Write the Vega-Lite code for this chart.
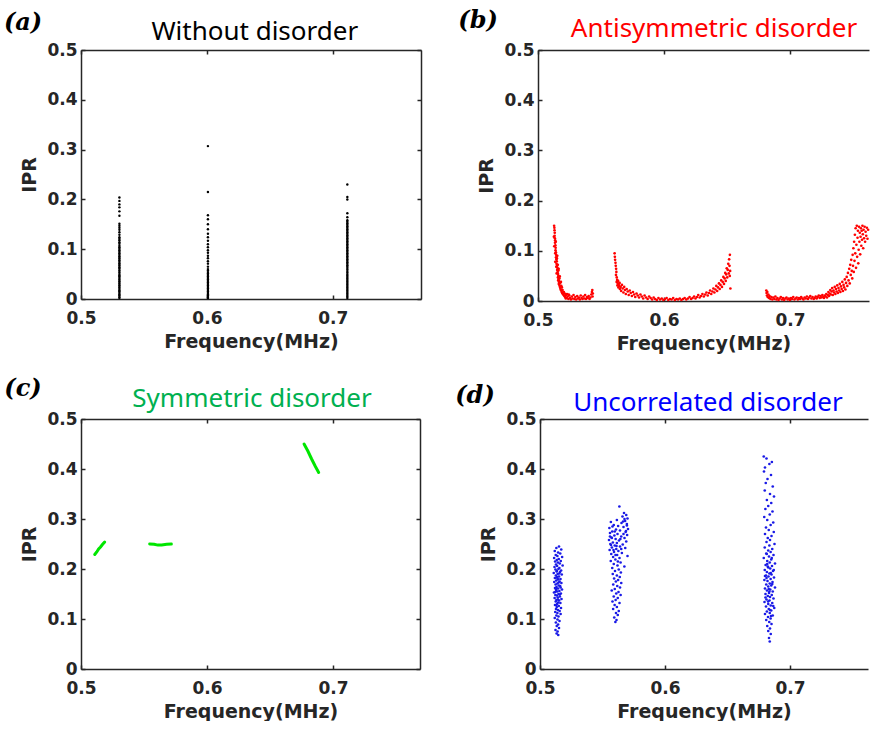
{
"$schema": "https://vega.github.io/schema/vega-lite/v6.json",
"padding": {"left": 3, "top": 8, "right": 0, "bottom": 0},
"background": "white",
"spacing": 23,
"vconcat": [
 {"hconcat": [
  {"width": 340, "height": 249,
   "layer": [
    {"data": {"name": "a"}, "mark": {"type": "circle", "size": 6, "color": "#000000", "opacity": 1},
     "encoding": {
      "x": {"field": "f", "type": "quantitative", "scale": {"domain": [0.5, 0.77], "nice": false, "zero": false}, "axis": {"orient": "bottom", "values": [0.5, 0.6, 0.7], "format": ".1f", "title": "Frequency(MHz)", "titlePadding": 6}},
      "y": {"field": "ipr", "type": "quantitative", "scale": {"domain": [0, 0.5], "nice": false}, "axis": {"orient": "left", "values": [0, 0.1, 0.2, 0.3, 0.4, 0.5], "labelExpr": "datum.value == 0 ? '0' : format(datum.value, '.1f')", "title": "IPR", "titlePadding": 7}}}},
    {"data": {"values": [{"label": "(a)"}]}, "mark": {"type": "text", "font": "DejaVu Serif", "fontStyle": "italic", "fontWeight": "bold", "fontSize": 24, "color": "#000000", "baseline": "middle", "align": "center"},
     "encoding": {
      "x": {"datum": 0.454, "type": "quantitative", "scale": {"domain": [0.5, 0.77], "nice": false, "zero": false}, "axis": {"orient": "top", "values": [0.5, 0.6, 0.7], "labels": false, "title": null}},
      "y": {"datum": 0.554, "type": "quantitative", "scale": {"domain": [0, 0.5], "nice": false}, "axis": {"orient": "right", "values": [0, 0.1, 0.2, 0.3, 0.4, 0.5], "labels": false, "title": null}},
      "text": {"field": "label"}}},
    {"data": {"values": [{"label": "Without disorder"}]}, "mark": {"type": "text", "font": "Noto Sans", "fontSize": 26, "color": "#000000", "baseline": "alphabetic", "align": "center"},
     "encoding": {
      "x": {"datum": 0.638, "type": "quantitative", "axis": null},
      "y": {"datum": 0.521, "type": "quantitative", "axis": null},
      "text": {"field": "label"}}}
   ],
   "resolve": {"axis": {"x": "independent", "y": "independent"}}},
  {"width": 331, "height": 251,
   "layer": [
    {"data": {"name": "b"}, "mark": {"type": "circle", "size": 7, "color": "#ff0000", "opacity": 1},
     "encoding": {
      "x": {"field": "f", "type": "quantitative", "scale": {"domain": [0.5, 0.7627], "nice": false, "zero": false}, "axis": {"orient": "bottom", "values": [0.5, 0.6, 0.7], "format": ".1f", "title": "Frequency(MHz)", "titlePadding": 6}},
      "y": {"field": "ipr", "type": "quantitative", "scale": {"domain": [0, 0.5], "nice": false}, "axis": {"orient": "left", "values": [0, 0.1, 0.2, 0.3, 0.4, 0.5], "labelExpr": "datum.value == 0 ? '0' : format(datum.value, '.1f')", "title": "IPR", "titlePadding": 7}}}},
    {"data": {"values": [{"label": "(b)"}]}, "mark": {"type": "text", "font": "DejaVu Serif", "fontStyle": "italic", "fontWeight": "bold", "fontSize": 24, "color": "#000000", "baseline": "middle", "align": "center"},
     "encoding": {
      "x": {"datum": 0.4524, "type": "quantitative", "scale": {"domain": [0.5, 0.7627], "nice": false, "zero": false}, "axis": {"orient": "top", "values": [0.5, 0.6, 0.7], "labels": false, "title": null}},
      "y": {"datum": 0.558, "type": "quantitative", "scale": {"domain": [0, 0.5], "nice": false}, "axis": null},
      "text": {"field": "label"}}},
    {"data": {"values": [{"label": "Antisymmetric disorder"}]}, "mark": {"type": "text", "font": "Noto Sans", "fontSize": 26, "color": "#ff0000", "baseline": "alphabetic", "align": "center"},
     "encoding": {
      "x": {"datum": 0.6397, "type": "quantitative", "axis": null},
      "y": {"datum": 0.525, "type": "quantitative", "axis": null},
      "text": {"field": "label"}}}
   ],
   "resolve": {"axis": {"x": "independent", "y": "independent"}}}
 ], "spacing": 36},
 {"hconcat": [
  {"width": 339, "height": 250,
   "layer": [
    {"data": {"name": "c"}, "mark": {"type": "line", "strokeWidth": 3, "color": "#00e600", "strokeCap": "round"},
     "encoding": {
      "x": {"field": "f", "type": "quantitative", "scale": {"domain": [0.5, 0.769], "nice": false, "zero": false}, "axis": {"orient": "bottom", "values": [0.5, 0.6, 0.7], "format": ".1f", "title": "Frequency(MHz)", "titlePadding": 6}},
      "y": {"field": "ipr", "type": "quantitative", "scale": {"domain": [0, 0.5], "nice": false}, "axis": {"orient": "left", "values": [0, 0.1, 0.2, 0.3, 0.4, 0.5], "labelExpr": "datum.value == 0 ? '0' : format(datum.value, '.1f')", "title": "IPR", "titlePadding": 7}},
      "detail": {"field": "seg", "type": "nominal"}}},
    {"data": {"values": [{"label": "(c)"}]}, "mark": {"type": "text", "font": "DejaVu Serif", "fontStyle": "italic", "fontWeight": "bold", "fontSize": 24, "color": "#000000", "baseline": "middle", "align": "center"},
     "encoding": {
      "x": {"datum": 0.454, "type": "quantitative", "scale": {"domain": [0.5, 0.769], "nice": false, "zero": false}, "axis": {"orient": "top", "values": [0.5, 0.6, 0.7], "labels": false, "title": null}},
      "y": {"datum": 0.56, "type": "quantitative", "scale": {"domain": [0, 0.5], "nice": false}, "axis": {"orient": "right", "values": [0, 0.1, 0.2, 0.3, 0.4, 0.5], "labels": false, "title": null}},
      "text": {"field": "label"}}},
    {"data": {"values": [{"label": "Symmetric disorder"}]}, "mark": {"type": "text", "font": "Noto Sans", "fontSize": 26, "color": "#00b050", "baseline": "alphabetic", "align": "center"},
     "encoding": {
      "x": {"datum": 0.6357, "type": "quantitative", "axis": null},
      "y": {"datum": 0.524, "type": "quantitative", "axis": null},
      "text": {"field": "label"}}}
   ],
   "resolve": {"axis": {"x": "independent", "y": "independent"}}},
  {"width": 328, "height": 250,
   "layer": [
    {"data": {"name": "d"}, "mark": {"type": "circle", "size": 7, "color": "#1a1ae6", "opacity": 1},
     "encoding": {
      "x": {"field": "f", "type": "quantitative", "scale": {"domain": [0.5, 0.7624], "nice": false, "zero": false}, "axis": {"orient": "bottom", "values": [0.5, 0.6, 0.7], "format": ".1f", "title": "Frequency(MHz)", "titlePadding": 6}},
      "y": {"field": "ipr", "type": "quantitative", "scale": {"domain": [0, 0.5], "nice": false}, "axis": {"orient": "left", "values": [0, 0.1, 0.2, 0.3, 0.4, 0.5], "labelExpr": "datum.value == 0 ? '0' : format(datum.value, '.1f')", "title": "IPR", "titlePadding": 7}}}},
    {"data": {"values": [{"label": "(d)"}]}, "mark": {"type": "text", "font": "DejaVu Serif", "fontStyle": "italic", "fontWeight": "bold", "fontSize": 24, "color": "#000000", "baseline": "middle", "align": "center"},
     "encoding": {
      "x": {"datum": 0.448, "type": "quantitative", "scale": {"domain": [0.5, 0.7624], "nice": false, "zero": false}, "axis": {"orient": "top", "values": [0.5, 0.6, 0.7], "labels": false, "title": null}},
      "y": {"datum": 0.5455, "type": "quantitative", "scale": {"domain": [0, 0.5], "nice": false}, "axis": null},
      "text": {"field": "label"}}},
    {"data": {"values": [{"label": "Uncorrelated disorder"}]}, "mark": {"type": "text", "font": "Noto Sans", "fontSize": 26, "color": "#0000ff", "baseline": "alphabetic", "align": "center"},
     "encoding": {
      "x": {"datum": 0.6344, "type": "quantitative", "axis": null},
      "y": {"datum": 0.5158, "type": "quantitative", "axis": null},
      "text": {"field": "label"}}}
   ],
   "resolve": {"axis": {"x": "independent", "y": "independent"}}}
 ], "spacing": 34}
],
"datasets": {
 "a": [
  {"f":0.5305,"ipr":0.002},{"f":0.5305,"ipr":0.004},{"f":0.5305,"ipr":0.007},{"f":0.5305,"ipr":0.009},{"f":0.5305,"ipr":0.012},{"f":0.5305,"ipr":0.015},{"f":0.5305,"ipr":0.017},{"f":0.5305,"ipr":0.02},{"f":0.5305,"ipr":0.023},{"f":0.5305,"ipr":0.026},{"f":0.5305,"ipr":0.028},{"f":0.5305,"ipr":0.031},{"f":0.5305,"ipr":0.034},{"f":0.5305,"ipr":0.036},{"f":0.5305,"ipr":0.039},{"f":0.5305,"ipr":0.042},{"f":0.5305,"ipr":0.045},{"f":0.5305,"ipr":0.047},{"f":0.5305,"ipr":0.05},{"f":0.5305,"ipr":0.053},{"f":0.5305,"ipr":0.056},{"f":0.5305,"ipr":0.058},{"f":0.5305,"ipr":0.061},{"f":0.5305,"ipr":0.064},{"f":0.5305,"ipr":0.067},{"f":0.5305,"ipr":0.069},{"f":0.5305,"ipr":0.072},{"f":0.5305,"ipr":0.075},{"f":0.5305,"ipr":0.078},{"f":0.5305,"ipr":0.081},{"f":0.5305,"ipr":0.083},{"f":0.5305,"ipr":0.086},{"f":0.5305,"ipr":0.089},{"f":0.5305,"ipr":0.092},{"f":0.5305,"ipr":0.095},{"f":0.5305,"ipr":0.098},{"f":0.5305,"ipr":0.101},{"f":0.5305,"ipr":0.104},{"f":0.5305,"ipr":0.107},{"f":0.5305,"ipr":0.111},{"f":0.5305,"ipr":0.114},{"f":0.5305,"ipr":0.118},{"f":0.5305,"ipr":0.121},{"f":0.5305,"ipr":0.124},{"f":0.5305,"ipr":0.129},{"f":0.5305,"ipr":0.134},{"f":0.5305,"ipr":0.139},{"f":0.5305,"ipr":0.143},{"f":0.5305,"ipr":0.147},{"f":0.5305,"ipr":0.151},{"f":0.5305,"ipr":0.167},{"f":0.5305,"ipr":0.176},{"f":0.5305,"ipr":0.184},{"f":0.5305,"ipr":0.19},{"f":0.5305,"ipr":0.197},{"f":0.5305,"ipr":0.204},
  {"f":0.6008,"ipr":0.002},{"f":0.6008,"ipr":0.004},{"f":0.6008,"ipr":0.007},{"f":0.6008,"ipr":0.009},{"f":0.6008,"ipr":0.012},{"f":0.6008,"ipr":0.015},{"f":0.6008,"ipr":0.018},{"f":0.6008,"ipr":0.021},{"f":0.6008,"ipr":0.024},{"f":0.6008,"ipr":0.027},{"f":0.6008,"ipr":0.03},{"f":0.6008,"ipr":0.033},{"f":0.6008,"ipr":0.036},{"f":0.6008,"ipr":0.039},{"f":0.6008,"ipr":0.042},{"f":0.6008,"ipr":0.045},{"f":0.6008,"ipr":0.048},{"f":0.6008,"ipr":0.051},{"f":0.6008,"ipr":0.054},{"f":0.6008,"ipr":0.057},{"f":0.6008,"ipr":0.06},{"f":0.6008,"ipr":0.065},{"f":0.6008,"ipr":0.071},{"f":0.6008,"ipr":0.076},{"f":0.6008,"ipr":0.082},{"f":0.6008,"ipr":0.087},{"f":0.6008,"ipr":0.093},{"f":0.6008,"ipr":0.098},{"f":0.6008,"ipr":0.104},{"f":0.6008,"ipr":0.11},{"f":0.6008,"ipr":0.117},{"f":0.6008,"ipr":0.124},{"f":0.6008,"ipr":0.131},{"f":0.6008,"ipr":0.14},{"f":0.6008,"ipr":0.15},{"f":0.6008,"ipr":0.16},{"f":0.6008,"ipr":0.168},{"f":0.6008,"ipr":0.215},{"f":0.6008,"ipr":0.307},
  {"f":0.7115,"ipr":0.002},{"f":0.7115,"ipr":0.005},{"f":0.7115,"ipr":0.008},{"f":0.7115,"ipr":0.011},{"f":0.7115,"ipr":0.014},{"f":0.7115,"ipr":0.017},{"f":0.7115,"ipr":0.02},{"f":0.7115,"ipr":0.023},{"f":0.7115,"ipr":0.026},{"f":0.7115,"ipr":0.029},{"f":0.7115,"ipr":0.032},{"f":0.7115,"ipr":0.035},{"f":0.7115,"ipr":0.038},{"f":0.7115,"ipr":0.041},{"f":0.7115,"ipr":0.044},{"f":0.7115,"ipr":0.047},{"f":0.7115,"ipr":0.05},{"f":0.7115,"ipr":0.053},{"f":0.7115,"ipr":0.056},{"f":0.7115,"ipr":0.059},{"f":0.7115,"ipr":0.062},{"f":0.7115,"ipr":0.065},{"f":0.7115,"ipr":0.068},{"f":0.7115,"ipr":0.071},{"f":0.7115,"ipr":0.074},{"f":0.7115,"ipr":0.077},{"f":0.7115,"ipr":0.08},{"f":0.7115,"ipr":0.083},{"f":0.7115,"ipr":0.086},{"f":0.7115,"ipr":0.089},{"f":0.7115,"ipr":0.092},{"f":0.7115,"ipr":0.095},{"f":0.7115,"ipr":0.098},{"f":0.7115,"ipr":0.101},{"f":0.7115,"ipr":0.104},{"f":0.7115,"ipr":0.107},{"f":0.7115,"ipr":0.11},{"f":0.7115,"ipr":0.113},{"f":0.7115,"ipr":0.116},{"f":0.7115,"ipr":0.119},{"f":0.7115,"ipr":0.122},{"f":0.7115,"ipr":0.125},{"f":0.7115,"ipr":0.128},{"f":0.7115,"ipr":0.131},{"f":0.7115,"ipr":0.134},{"f":0.7115,"ipr":0.137},{"f":0.7115,"ipr":0.14},{"f":0.7115,"ipr":0.143},{"f":0.7115,"ipr":0.146},{"f":0.7115,"ipr":0.149},{"f":0.7115,"ipr":0.152},{"f":0.7115,"ipr":0.155},{"f":0.7115,"ipr":0.158},{"f":0.7115,"ipr":0.164},{"f":0.7115,"ipr":0.172},{"f":0.7115,"ipr":0.2},{"f":0.7115,"ipr":0.205},{"f":0.7115,"ipr":0.23}
 ],
 "b": [
  {"f":0.5128,"ipr":0.150},{"f":0.5130,"ipr":0.146},{"f":0.5131,"ipr":0.141},{"f":0.5133,"ipr":0.136},{"f":0.5132,"ipr":0.130},{"f":0.5134,"ipr":0.125},{"f":0.5136,"ipr":0.121},{"f":0.5135,"ipr":0.116},{"f":0.5138,"ipr":0.111},{"f":0.5140,"ipr":0.106},{"f":0.5139,"ipr":0.101},{"f":0.5142,"ipr":0.097},{"f":0.5144,"ipr":0.092},{"f":0.5143,"ipr":0.087},{"f":0.5146,"ipr":0.083},{"f":0.5149,"ipr":0.079},{"f":0.5147,"ipr":0.074},{"f":0.5151,"ipr":0.070},{"f":0.5154,"ipr":0.066},{"f":0.5152,"ipr":0.062},{"f":0.5156,"ipr":0.058},{"f":0.5159,"ipr":0.054},{"f":0.5161,"ipr":0.050},{"f":0.5158,"ipr":0.047},{"f":0.5163,"ipr":0.044},{"f":0.5166,"ipr":0.040},{"f":0.5168,"ipr":0.037},{"f":0.5165,"ipr":0.034},{"f":0.5171,"ipr":0.031},{"f":0.5174,"ipr":0.028},{"f":0.5177,"ipr":0.026},{"f":0.5180,"ipr":0.023},{"f":0.5184,"ipr":0.021},{"f":0.5188,"ipr":0.018},{"f":0.5192,"ipr":0.016},{"f":0.5197,"ipr":0.014},{"f":0.5203,"ipr":0.012},{"f":0.5209,"ipr":0.010},{"f":0.5215,"ipr":0.008},{"f":0.5222,"ipr":0.012},{"f":0.5228,"ipr":0.006},{"f":0.5235,"ipr":0.009},{"f":0.5241,"ipr":0.004},{"f":0.5248,"ipr":0.011},{"f":0.5254,"ipr":0.006},{"f":0.5261,"ipr":0.003},{"f":0.5268,"ipr":0.009},{"f":0.5275,"ipr":0.005},{"f":0.5282,"ipr":0.012},{"f":0.5289,"ipr":0.004},{"f":0.5296,"ipr":0.008},{"f":0.5303,"ipr":0.003},{"f":0.5311,"ipr":0.010},{"f":0.5318,"ipr":0.005},{"f":0.5325,"ipr":0.007},{"f":0.5332,"ipr":0.003},{"f":0.5339,"ipr":0.011},{"f":0.5346,"ipr":0.006},{"f":0.5353,"ipr":0.004},{"f":0.5360,"ipr":0.009},{"f":0.5367,"ipr":0.005},{"f":0.5374,"ipr":0.012},{"f":0.5381,"ipr":0.004},{"f":0.5388,"ipr":0.008},{"f":0.5395,"ipr":0.006},{"f":0.5402,"ipr":0.010},{"f":0.5409,"ipr":0.004},{"f":0.5416,"ipr":0.007},{"f":0.5423,"ipr":0.013},{"f":0.5428,"ipr":0.018},{"f":0.5431,"ipr":0.022},{"f":0.5433,"ipr":0.009},{"f":0.5435,"ipr":0.015},
  {"f":0.5137,"ipr":0.095},{"f":0.5145,"ipr":0.068},{"f":0.5150,"ipr":0.085},{"f":0.5157,"ipr":0.072},{"f":0.5162,"ipr":0.061},{"f":0.5170,"ipr":0.045},{"f":0.5176,"ipr":0.036},{"f":0.5185,"ipr":0.030},{"f":0.5195,"ipr":0.022},{"f":0.5205,"ipr":0.018},{"f":0.5212,"ipr":0.015},{"f":0.5220,"ipr":0.005},{"f":0.5230,"ipr":0.014},{"f":0.5244,"ipr":0.013},{"f":0.5126,"ipr":0.128},{"f":0.5141,"ipr":0.118},{"f":0.5129,"ipr":0.109},{"f":0.5153,"ipr":0.090},{"f":0.5137,"ipr":0.078},{"f":0.5164,"ipr":0.064},{"f":0.5148,"ipr":0.055},{"f":0.5173,"ipr":0.049},{"f":0.5160,"ipr":0.041},{"f":0.5182,"ipr":0.038},{"f":0.5190,"ipr":0.027},
  {"f":0.5608,"ipr":0.095},{"f":0.5610,"ipr":0.088},{"f":0.5612,"ipr":0.082},{"f":0.5615,"ipr":0.076},{"f":0.5617,"ipr":0.070},{"f":0.5620,"ipr":0.064},{"f":0.5622,"ipr":0.058},{"f":0.5619,"ipr":0.052},{"f":0.5625,"ipr":0.047},{"f":0.5628,"ipr":0.042},{"f":0.5624,"ipr":0.038},{"f":0.5632,"ipr":0.036},{"f":0.5630,"ipr":0.031},{"f":0.5636,"ipr":0.040},{"f":0.5640,"ipr":0.033},{"f":0.5638,"ipr":0.027},{"f":0.5645,"ipr":0.030},{"f":0.5650,"ipr":0.024},{"f":0.5648,"ipr":0.036},{"f":0.5656,"ipr":0.028},{"f":0.5660,"ipr":0.020},{"f":0.5666,"ipr":0.032},{"f":0.5672,"ipr":0.025},{"f":0.5678,"ipr":0.017},{"f":0.5684,"ipr":0.028},{"f":0.5690,"ipr":0.022},{"f":0.5697,"ipr":0.014},{"f":0.5704,"ipr":0.024},{"f":0.5712,"ipr":0.019},{"f":0.5720,"ipr":0.012},{"f":0.5728,"ipr":0.021},{"f":0.5736,"ipr":0.016},{"f":0.5745,"ipr":0.010},{"f":0.5754,"ipr":0.018},{"f":0.5763,"ipr":0.013},{"f":0.5772,"ipr":0.008},{"f":0.5782,"ipr":0.015},{"f":0.5792,"ipr":0.011},{"f":0.5802,"ipr":0.007},{"f":0.5813,"ipr":0.013},{"f":0.5824,"ipr":0.009},{"f":0.5835,"ipr":0.005},{"f":0.5846,"ipr":0.011},{"f":0.5858,"ipr":0.007},{"f":0.5870,"ipr":0.004},{"f":0.5882,"ipr":0.009},{"f":0.5894,"ipr":0.006},{"f":0.5906,"ipr":0.003},{"f":0.5918,"ipr":0.007},{"f":0.5930,"ipr":0.004},{"f":0.5943,"ipr":0.002},{"f":0.5956,"ipr":0.006},{"f":0.5969,"ipr":0.003},{"f":0.5982,"ipr":0.005},{"f":0.5995,"ipr":0.002},{"f":0.6008,"ipr":0.004},{"f":0.6021,"ipr":0.006},{"f":0.6034,"ipr":0.002},{"f":0.6047,"ipr":0.004},{"f":0.6060,"ipr":0.003},{"f":0.6073,"ipr":0.006},{"f":0.6086,"ipr":0.002},{"f":0.6099,"ipr":0.004},{"f":0.6112,"ipr":0.003},{"f":0.6125,"ipr":0.005},{"f":0.6138,"ipr":0.002},{"f":0.6151,"ipr":0.004},{"f":0.6164,"ipr":0.006},{"f":0.6177,"ipr":0.003},{"f":0.6190,"ipr":0.005},{"f":0.6203,"ipr":0.008},{"f":0.6215,"ipr":0.004},{"f":0.6227,"ipr":0.006},{"f":0.6239,"ipr":0.009},{"f":0.6250,"ipr":0.005},{"f":0.6261,"ipr":0.008},{"f":0.6272,"ipr":0.012},{"f":0.6283,"ipr":0.007},{"f":0.6294,"ipr":0.010},{"f":0.6305,"ipr":0.014},{"f":0.6316,"ipr":0.009},{"f":0.6327,"ipr":0.013},{"f":0.6337,"ipr":0.017},{"f":0.6347,"ipr":0.011},{"f":0.6357,"ipr":0.016},{"f":0.6366,"ipr":0.021},{"f":0.6375,"ipr":0.014},{"f":0.6384,"ipr":0.019},{"f":0.6392,"ipr":0.025},{"f":0.6400,"ipr":0.017},{"f":0.6408,"ipr":0.023},{"f":0.6415,"ipr":0.030},{"f":0.6422,"ipr":0.020},{"f":0.6429,"ipr":0.027},{"f":0.6436,"ipr":0.035},{"f":0.6442,"ipr":0.024},{"f":0.6448,"ipr":0.032},{"f":0.6454,"ipr":0.041},{"f":0.6460,"ipr":0.028},{"f":0.6466,"ipr":0.038},{"f":0.6471,"ipr":0.048},{"f":0.6476,"ipr":0.034},{"f":0.6481,"ipr":0.045},{"f":0.6486,"ipr":0.056},{"f":0.6490,"ipr":0.040},{"f":0.6494,"ipr":0.053},{"f":0.6498,"ipr":0.065},{"f":0.6502,"ipr":0.047},{"f":0.6506,"ipr":0.062},{"f":0.6510,"ipr":0.074},{"f":0.6514,"ipr":0.055},{"f":0.6517,"ipr":0.083},{"f":0.6520,"ipr":0.070},{"f":0.6523,"ipr":0.092},{"f":0.6525,"ipr":0.060},{"f":0.6527,"ipr":0.025},{"f":0.6522,"ipr":0.050},
  {"f":0.6812,"ipr":0.021},{"f":0.6814,"ipr":0.016},{"f":0.6817,"ipr":0.011},{"f":0.6820,"ipr":0.018},{"f":0.6823,"ipr":0.008},{"f":0.6828,"ipr":0.013},{"f":0.6833,"ipr":0.006},{"f":0.6838,"ipr":0.010},{"f":0.6845,"ipr":0.004},{"f":0.6852,"ipr":0.008},{"f":0.6860,"ipr":0.003},{"f":0.6868,"ipr":0.007},{"f":0.6876,"ipr":0.004},{"f":0.6884,"ipr":0.009},{"f":0.6892,"ipr":0.003},{"f":0.6900,"ipr":0.006},{"f":0.6909,"ipr":0.002},{"f":0.6918,"ipr":0.005},{"f":0.6927,"ipr":0.008},{"f":0.6936,"ipr":0.003},{"f":0.6945,"ipr":0.006},{"f":0.6954,"ipr":0.002},{"f":0.6963,"ipr":0.005},{"f":0.6972,"ipr":0.007},{"f":0.6981,"ipr":0.003},{"f":0.6990,"ipr":0.005},{"f":0.6999,"ipr":0.002},{"f":0.7008,"ipr":0.006},{"f":0.7017,"ipr":0.004},{"f":0.7026,"ipr":0.008},{"f":0.7035,"ipr":0.003},{"f":0.7044,"ipr":0.005},{"f":0.7053,"ipr":0.007},{"f":0.7062,"ipr":0.003},{"f":0.7071,"ipr":0.006},{"f":0.7080,"ipr":0.004},{"f":0.7089,"ipr":0.008},{"f":0.7098,"ipr":0.005},{"f":0.7107,"ipr":0.003},{"f":0.7116,"ipr":0.007},{"f":0.7125,"ipr":0.005},{"f":0.7134,"ipr":0.009},{"f":0.7143,"ipr":0.004},{"f":0.7152,"ipr":0.007},{"f":0.7161,"ipr":0.010},{"f":0.7170,"ipr":0.005},{"f":0.7179,"ipr":0.008},{"f":0.7188,"ipr":0.004},
  {"f":0.7196,"ipr":0.006},{"f":0.7204,"ipr":0.009},{"f":0.7212,"ipr":0.005},{"f":0.7220,"ipr":0.008},{"f":0.7228,"ipr":0.011},{"f":0.7236,"ipr":0.006},{"f":0.7243,"ipr":0.010},{"f":0.7250,"ipr":0.007},{"f":0.7257,"ipr":0.012},{"f":0.7264,"ipr":0.008},{"f":0.7270,"ipr":0.006},{"f":0.7276,"ipr":0.011},{"f":0.7282,"ipr":0.009},{"f":0.7288,"ipr":0.014},{"f":0.7294,"ipr":0.007},{"f":0.7300,"ipr":0.012},{"f":0.7305,"ipr":0.018},{"f":0.7310,"ipr":0.010},{"f":0.7315,"ipr":0.015},{"f":0.7320,"ipr":0.022},{"f":0.7325,"ipr":0.013},{"f":0.7330,"ipr":0.019},{"f":0.7335,"ipr":0.026},{"f":0.7340,"ipr":0.012},{"f":0.7345,"ipr":0.021},{"f":0.7350,"ipr":0.017},{"f":0.7355,"ipr":0.028},{"f":0.7360,"ipr":0.014},{"f":0.7365,"ipr":0.024},{"f":0.7370,"ipr":0.019},{"f":0.7375,"ipr":0.031},{"f":0.7380,"ipr":0.016},{"f":0.7385,"ipr":0.026},{"f":0.7390,"ipr":0.021},{"f":0.7395,"ipr":0.034},{"f":0.7400,"ipr":0.018},{"f":0.7405,"ipr":0.029},{"f":0.7410,"ipr":0.024},{"f":0.7415,"ipr":0.038},{"f":0.7420,"ipr":0.020},{"f":0.7425,"ipr":0.032},{"f":0.7430,"ipr":0.027},{"f":0.7435,"ipr":0.043},{"f":0.7440,"ipr":0.023},{"f":0.7445,"ipr":0.036},{"f":0.7450,"ipr":0.048},{"f":0.7455,"ipr":0.030},{"f":0.7460,"ipr":0.056},{"f":0.7465,"ipr":0.041},{"f":0.7470,"ipr":0.064},{"f":0.7474,"ipr":0.035},{"f":0.7478,"ipr":0.072},{"f":0.7482,"ipr":0.052},{"f":0.7486,"ipr":0.082},{"f":0.7490,"ipr":0.060},{"f":0.7494,"ipr":0.045},{"f":0.7497,"ipr":0.092},{"f":0.7500,"ipr":0.070},{"f":0.7503,"ipr":0.105},{"f":0.7506,"ipr":0.058},{"f":0.7509,"ipr":0.118},{"f":0.7512,"ipr":0.080},{"f":0.7515,"ipr":0.132},{"f":0.7518,"ipr":0.095},{"f":0.7521,"ipr":0.145},{"f":0.7524,"ipr":0.066},{"f":0.7527,"ipr":0.112},{"f":0.7530,"ipr":0.150},{"f":0.7533,"ipr":0.088},{"f":0.7536,"ipr":0.126},{"f":0.7539,"ipr":0.140},{"f":0.7542,"ipr":0.075},{"f":0.7545,"ipr":0.102},{"f":0.7548,"ipr":0.148},{"f":0.7551,"ipr":0.118},{"f":0.7554,"ipr":0.136},{"f":0.7557,"ipr":0.093},{"f":0.7560,"ipr":0.128},{"f":0.7563,"ipr":0.145},{"f":0.7566,"ipr":0.110},{"f":0.7569,"ipr":0.140},{"f":0.7572,"ipr":0.122},{"f":0.7575,"ipr":0.150},{"f":0.7578,"ipr":0.133},{"f":0.7581,"ipr":0.105},{"f":0.7584,"ipr":0.142},{"f":0.7588,"ipr":0.125},{"f":0.7592,"ipr":0.148},{"f":0.7596,"ipr":0.118},{"f":0.7600,"ipr":0.138},{"f":0.7605,"ipr":0.130},{"f":0.7610,"ipr":0.146},{"f":0.7615,"ipr":0.124},{"f":0.7620,"ipr":0.142}
 ],
 "c": [
  {"seg":"s1","f":0.5109,"ipr":0.229},{"seg":"s1","f":0.5125,"ipr":0.234},{"seg":"s1","f":0.5140,"ipr":0.240},{"seg":"s1","f":0.5155,"ipr":0.244},{"seg":"s1","f":0.5170,"ipr":0.249},{"seg":"s1","f":0.5188,"ipr":0.254},
  {"seg":"s2","f":0.5545,"ipr":0.2502},{"seg":"s2","f":0.5580,"ipr":0.2495},{"seg":"s2","f":0.5610,"ipr":0.2478},{"seg":"s2","f":0.5640,"ipr":0.2482},{"seg":"s2","f":0.5680,"ipr":0.2497},{"seg":"s2","f":0.5717,"ipr":0.2500},
  {"seg":"s3","f":0.6770,"ipr":0.450},{"seg":"s3","f":0.6800,"ipr":0.436},{"seg":"s3","f":0.6830,"ipr":0.420},{"seg":"s3","f":0.6860,"ipr":0.405},{"seg":"s3","f":0.6886,"ipr":0.393}
 ],
 "d": [
  {"f":0.5152,"ipr":0.245},{"f":0.5131,"ipr":0.242},{"f":0.5170,"ipr":0.239},{"f":0.5118,"ipr":0.236},{"f":0.5145,"ipr":0.233},{"f":0.5162,"ipr":0.231},{"f":0.5126,"ipr":0.228},{"f":0.5139,"ipr":0.226},{"f":0.5177,"ipr":0.224},{"f":0.5113,"ipr":0.222},{"f":0.5150,"ipr":0.220},{"f":0.5134,"ipr":0.218},{"f":0.5166,"ipr":0.216},{"f":0.5121,"ipr":0.215},{"f":0.5143,"ipr":0.213},{"f":0.5158,"ipr":0.211},{"f":0.5128,"ipr":0.209},{"f":0.5181,"ipr":0.207},{"f":0.5137,"ipr":0.206},{"f":0.5116,"ipr":0.204},{"f":0.5155,"ipr":0.202},{"f":0.5147,"ipr":0.200},{"f":0.5124,"ipr":0.199},{"f":0.5169,"ipr":0.197},{"f":0.5133,"ipr":0.195},{"f":0.5160,"ipr":0.194},{"f":0.5110,"ipr":0.192},{"f":0.5141,"ipr":0.190},{"f":0.5174,"ipr":0.189},{"f":0.5127,"ipr":0.187},{"f":0.5152,"ipr":0.185},{"f":0.5136,"ipr":0.184},{"f":0.5119,"ipr":0.182},{"f":0.5164,"ipr":0.180},{"f":0.5146,"ipr":0.179},{"f":0.5130,"ipr":0.177},{"f":0.5157,"ipr":0.175},{"f":0.5114,"ipr":0.174},{"f":0.5171,"ipr":0.172},{"f":0.5139,"ipr":0.171},{"f":0.5125,"ipr":0.169},{"f":0.5150,"ipr":0.167},{"f":0.5161,"ipr":0.166},{"f":0.5132,"ipr":0.164},{"f":0.5120,"ipr":0.162},{"f":0.5144,"ipr":0.161},{"f":0.5176,"ipr":0.159},{"f":0.5129,"ipr":0.158},{"f":0.5155,"ipr":0.156},{"f":0.5138,"ipr":0.155},{"f":0.5112,"ipr":0.153},{"f":0.5167,"ipr":0.151},{"f":0.5148,"ipr":0.150},{"f":0.5123,"ipr":0.148},{"f":0.5135,"ipr":0.147},{"f":0.5159,"ipr":0.145},{"f":0.5142,"ipr":0.143},{"f":0.5117,"ipr":0.142},{"f":0.5172,"ipr":0.140},{"f":0.5131,"ipr":0.138},{"f":0.5153,"ipr":0.137},{"f":0.5126,"ipr":0.135},{"f":0.5145,"ipr":0.133},{"f":0.5163,"ipr":0.132},{"f":0.5137,"ipr":0.130},{"f":0.5120,"ipr":0.128},{"f":0.5150,"ipr":0.126},{"f":0.5134,"ipr":0.124},{"f":0.5168,"ipr":0.122},{"f":0.5128,"ipr":0.120},{"f":0.5143,"ipr":0.118},{"f":0.5157,"ipr":0.116},{"f":0.5122,"ipr":0.114},{"f":0.5139,"ipr":0.112},{"f":0.5165,"ipr":0.110},{"f":0.5131,"ipr":0.107},{"f":0.5148,"ipr":0.105},{"f":0.5118,"ipr":0.102},{"f":0.5140,"ipr":0.099},{"f":0.5156,"ipr":0.096},{"f":0.5127,"ipr":0.093},{"f":0.5145,"ipr":0.089},{"f":0.5134,"ipr":0.086},{"f":0.5152,"ipr":0.082},{"f":0.5124,"ipr":0.078},{"f":0.5141,"ipr":0.075},{"f":0.5133,"ipr":0.071},{"f":0.5146,"ipr":0.068},
  {"f":0.5135,"ipr":0.196},{"f":0.5149,"ipr":0.173},{"f":0.5127,"ipr":0.160},{"f":0.5158,"ipr":0.149},{"f":0.5140,"ipr":0.181},{"f":0.5122,"ipr":0.154},{"f":0.5165,"ipr":0.163},{"f":0.5144,"ipr":0.139},{"f":0.5130,"ipr":0.128},{"f":0.5154,"ipr":0.191},
  {"f":0.5635,"ipr":0.325},{"f":0.5672,"ipr":0.312},{"f":0.5690,"ipr":0.308},{"f":0.5660,"ipr":0.305},{"f":0.5700,"ipr":0.301},{"f":0.5615,"ipr":0.298},{"f":0.5681,"ipr":0.296},{"f":0.5567,"ipr":0.294},{"f":0.5652,"ipr":0.292},{"f":0.5695,"ipr":0.290},{"f":0.5590,"ipr":0.288},{"f":0.5625,"ipr":0.286},{"f":0.5668,"ipr":0.284},{"f":0.5555,"ipr":0.282},{"f":0.5704,"ipr":0.280},{"f":0.5608,"ipr":0.279},{"f":0.5640,"ipr":0.277},{"f":0.5578,"ipr":0.275},{"f":0.5685,"ipr":0.274},{"f":0.5560,"ipr":0.272},{"f":0.5620,"ipr":0.270},{"f":0.5697,"ipr":0.268},{"f":0.5595,"ipr":0.267},{"f":0.5650,"ipr":0.265},{"f":0.5572,"ipr":0.263},{"f":0.5676,"ipr":0.262},{"f":0.5605,"ipr":0.260},{"f":0.5552,"ipr":0.258},{"f":0.5632,"ipr":0.257},{"f":0.5690,"ipr":0.255},{"f":0.5583,"ipr":0.253},{"f":0.5615,"ipr":0.252},{"f":0.5563,"ipr":0.250},{"f":0.5662,"ipr":0.249},{"f":0.5598,"ipr":0.247},{"f":0.5640,"ipr":0.245},{"f":0.5575,"ipr":0.243},{"f":0.5682,"ipr":0.242},{"f":0.5610,"ipr":0.240},{"f":0.5557,"ipr":0.238},{"f":0.5627,"ipr":0.236},{"f":0.5592,"ipr":0.234},{"f":0.5655,"ipr":0.232},{"f":0.5570,"ipr":0.230},{"f":0.5617,"ipr":0.228},{"f":0.5700,"ipr":0.226},{"f":0.5585,"ipr":0.224},{"f":0.5636,"ipr":0.222},{"f":0.5603,"ipr":0.219},{"f":0.5566,"ipr":0.216},{"f":0.5645,"ipr":0.213},{"f":0.5590,"ipr":0.210},{"f":0.5620,"ipr":0.207},{"f":0.5675,"ipr":0.205},{"f":0.5578,"ipr":0.202},{"f":0.5630,"ipr":0.199},{"f":0.5600,"ipr":0.196},{"f":0.5647,"ipr":0.193},{"f":0.5582,"ipr":0.190},{"f":0.5615,"ipr":0.187},{"f":0.5638,"ipr":0.184},{"f":0.5593,"ipr":0.181},{"f":0.5625,"ipr":0.178},{"f":0.5607,"ipr":0.175},{"f":0.5650,"ipr":0.172},{"f":0.5586,"ipr":0.169},{"f":0.5618,"ipr":0.166},{"f":0.5640,"ipr":0.163},{"f":0.5598,"ipr":0.160},{"f":0.5574,"ipr":0.157},{"f":0.5628,"ipr":0.154},{"f":0.5610,"ipr":0.151},{"f":0.5645,"ipr":0.148},{"f":0.5590,"ipr":0.145},{"f":0.5622,"ipr":0.142},{"f":0.5605,"ipr":0.138},{"f":0.5580,"ipr":0.135},{"f":0.5636,"ipr":0.132},{"f":0.5597,"ipr":0.128},{"f":0.5615,"ipr":0.124},{"f":0.5585,"ipr":0.120},{"f":0.5630,"ipr":0.116},{"f":0.5608,"ipr":0.112},{"f":0.5622,"ipr":0.108},{"f":0.5594,"ipr":0.103},{"f":0.5612,"ipr":0.098},{"f":0.5603,"ipr":0.094},
  {"f":0.5580,"ipr":0.285},{"f":0.5598,"ipr":0.275},{"f":0.5665,"ipr":0.295},{"f":0.5688,"ipr":0.276},{"f":0.5575,"ipr":0.262},{"f":0.5612,"ipr":0.246},{"f":0.5668,"ipr":0.270},{"f":0.5568,"ipr":0.248},{"f":0.5643,"ipr":0.260},{"f":0.5588,"ipr":0.238},{"f":0.5695,"ipr":0.287},{"f":0.5676,"ipr":0.300},{"f":0.5604,"ipr":0.228},{"f":0.5560,"ipr":0.265},{"f":0.5623,"ipr":0.215},{"f":0.5650,"ipr":0.240},
  {"f":0.6790,"ipr":0.425},{"f":0.6812,"ipr":0.421},{"f":0.6855,"ipr":0.414},{"f":0.6835,"ipr":0.410},{"f":0.6800,"ipr":0.403},{"f":0.6792,"ipr":0.395},{"f":0.6848,"ipr":0.388},{"f":0.6820,"ipr":0.380},{"f":0.6806,"ipr":0.372},{"f":0.6862,"ipr":0.365},{"f":0.6798,"ipr":0.357},{"f":0.6840,"ipr":0.350},{"f":0.6872,"ipr":0.345},{"f":0.6815,"ipr":0.338},{"f":0.6850,"ipr":0.332},{"f":0.6826,"ipr":0.326},{"f":0.6803,"ipr":0.320},{"f":0.6860,"ipr":0.315},{"f":0.6838,"ipr":0.309},{"f":0.6794,"ipr":0.304},{"f":0.6818,"ipr":0.298},{"f":0.6866,"ipr":0.293},{"f":0.6845,"ipr":0.288},{"f":0.6808,"ipr":0.283},{"f":0.6830,"ipr":0.278},{"f":0.6870,"ipr":0.274},{"f":0.6800,"ipr":0.270},{"f":0.6852,"ipr":0.266},{"f":0.6822,"ipr":0.262},{"f":0.6840,"ipr":0.258},{"f":0.6812,"ipr":0.254},{"f":0.6876,"ipr":0.250},{"f":0.6835,"ipr":0.247},{"f":0.6798,"ipr":0.243},{"f":0.6858,"ipr":0.240},{"f":0.6826,"ipr":0.237},{"f":0.6845,"ipr":0.234},{"f":0.6810,"ipr":0.231},{"f":0.6868,"ipr":0.228},{"f":0.6832,"ipr":0.225},{"f":0.6790,"ipr":0.222},{"f":0.6850,"ipr":0.219},{"f":0.6818,"ipr":0.216},{"f":0.6838,"ipr":0.213},{"f":0.6880,"ipr":0.211},{"f":0.6805,"ipr":0.208},{"f":0.6856,"ipr":0.206},{"f":0.6826,"ipr":0.203},{"f":0.6842,"ipr":0.201},{"f":0.6798,"ipr":0.198},{"f":0.6864,"ipr":0.196},{"f":0.6815,"ipr":0.194},{"f":0.6835,"ipr":0.191},{"f":0.6852,"ipr":0.189},{"f":0.6808,"ipr":0.187},{"f":0.6828,"ipr":0.185},{"f":0.6872,"ipr":0.183},{"f":0.6845,"ipr":0.180},{"f":0.6795,"ipr":0.178},{"f":0.6820,"ipr":0.176},{"f":0.6860,"ipr":0.174},{"f":0.6838,"ipr":0.171},{"f":0.6810,"ipr":0.169},{"f":0.6850,"ipr":0.167},{"f":0.6826,"ipr":0.165},{"f":0.6880,"ipr":0.163},{"f":0.6800,"ipr":0.161},{"f":0.6842,"ipr":0.159},{"f":0.6816,"ipr":0.157},{"f":0.6862,"ipr":0.155},{"f":0.6832,"ipr":0.152},{"f":0.6804,"ipr":0.150},{"f":0.6854,"ipr":0.148},{"f":0.6822,"ipr":0.146},{"f":0.6840,"ipr":0.144},{"f":0.6868,"ipr":0.141},{"f":0.6812,"ipr":0.139},{"f":0.6836,"ipr":0.137},{"f":0.6796,"ipr":0.134},{"f":0.6858,"ipr":0.132},{"f":0.6826,"ipr":0.130},{"f":0.6846,"ipr":0.127},{"f":0.6808,"ipr":0.125},{"f":0.6874,"ipr":0.122},{"f":0.6830,"ipr":0.120},{"f":0.6850,"ipr":0.117},{"f":0.6815,"ipr":0.115},{"f":0.6838,"ipr":0.112},{"f":0.6800,"ipr":0.110},{"f":0.6862,"ipr":0.107},{"f":0.6824,"ipr":0.104},{"f":0.6845,"ipr":0.101},{"f":0.6810,"ipr":0.098},{"f":0.6834,"ipr":0.094},{"f":0.6852,"ipr":0.090},{"f":0.6818,"ipr":0.086},{"f":0.6840,"ipr":0.081},{"f":0.6826,"ipr":0.076},{"f":0.6846,"ipr":0.070},{"f":0.6832,"ipr":0.062},{"f":0.6838,"ipr":0.055},
  {"f":0.6822,"ipr":0.205},{"f":0.6846,"ipr":0.192},{"f":0.6812,"ipr":0.182},{"f":0.6858,"ipr":0.170},{"f":0.6830,"ipr":0.160},{"f":0.6804,"ipr":0.143},{"f":0.6866,"ipr":0.126},{"f":0.6840,"ipr":0.118},{"f":0.6818,"ipr":0.210},{"f":0.6854,"ipr":0.222},{"f":0.6800,"ipr":0.186},{"f":0.6835,"ipr":0.155},{"f":0.6870,"ipr":0.198},{"f":0.6825,"ipr":0.135},{"f":0.6848,"ipr":0.106},{"f":0.6814,"ipr":0.230}
 ]
},
"config": {
 "view": {"stroke": null},
 "axis": {"grid": false, "domainColor": "#262626", "domainWidth": 1.5, "tickColor": "#262626", "tickWidth": 1.5, "tickSize": -4, "labelColor": "#262626", "labelFont": "DejaVu Sans", "labelFontSize": 17, "labelFontWeight": "bold", "labelPadding": 8, "labelFlush": false, "labelOverlap": false, "titleColor": "#262626", "titleFont": "DejaVu Sans", "titleFontSize": 19, "titleFontWeight": "bold"},
 "axisX": {"labelPadding": 15}
}
}
